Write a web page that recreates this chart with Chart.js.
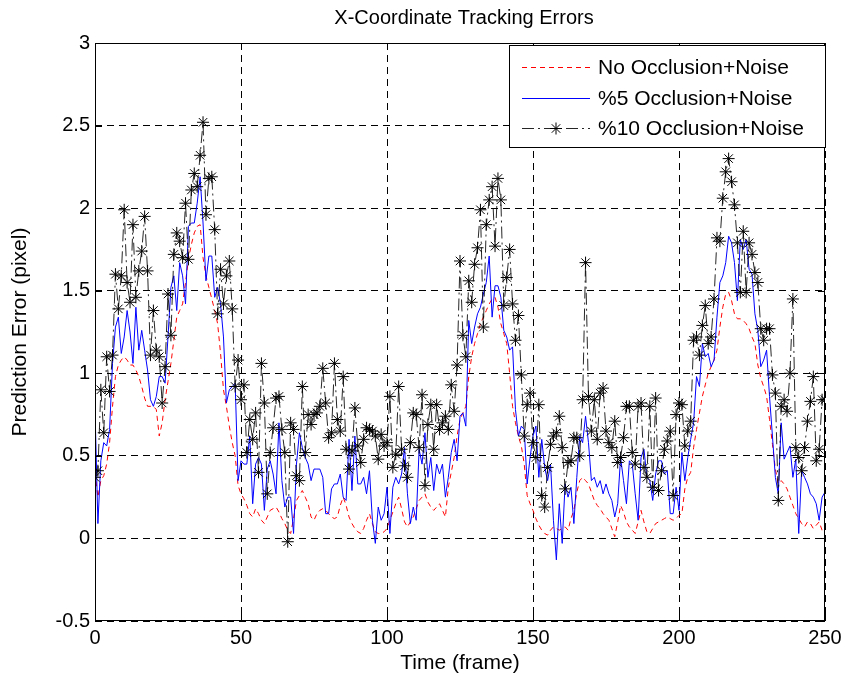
<!DOCTYPE html>
<html>
<head>
<meta charset="utf-8">
<title>X-Coordinate Tracking Errors</title>
<script src="https://cdn.jsdelivr.net/npm/chart.js@4.4.1/dist/chart.umd.min.js"></script>
<style>
  html, body { margin: 0; padding: 0; background: #fff; }
  #wrap { width: 850px; height: 682px; }
</style>
</head>
<body>
<div id="wrap"><canvas id="errChart" width="850" height="682"></canvas></div>
<script>
// frame index 0..250
const frames = Array.from({ length: 251 }, (_, i) => i);

const seriesNames = ['No Occlusion+Noise', '%5 Occlusion+Noise', '%10 Occlusion+Noise'];

const noOcclusion = [
  0.40, 0.25, 0.35, 0.38, 0.45, 0.58, 0.80, 0.98, 1.05, 1.08,
  1.10, 1.08, 1.05, 1.05, 1.02, 0.98, 0.92, 0.85, 0.80, 0.80,
  0.80, 0.78, 0.62, 0.70, 0.84, 0.95, 1.06, 1.20, 1.34, 1.38,
  1.42, 1.55, 1.69, 1.78, 1.85, 1.89, 1.90, 1.70, 1.59, 1.52,
  1.45, 1.38, 1.30, 1.12, 0.90, 0.80, 0.68, 0.58, 0.50, 0.32,
  0.27, 0.24, 0.20, 0.15, 0.13, 0.18, 0.15, 0.11, 0.09, 0.13,
  0.17, 0.18, 0.19, 0.16, 0.12, 0.09, 0.05, 0.03, 0.12, 0.23,
  0.26, 0.29, 0.25, 0.21, 0.13, 0.11, 0.15, 0.17, 0.18, 0.17,
  0.15, 0.13, 0.12, 0.13, 0.20, 0.25, 0.20, 0.13, 0.09, 0.06,
  0.04, 0.03, 0.06, 0.11, 0.15, 0.09, 0.04, 0.03, 0.03, 0.04,
  0.06, 0.11, 0.16, 0.21, 0.25, 0.18, 0.10, 0.07, 0.10, 0.13,
  0.18, 0.23, 0.25, 0.27, 0.22, 0.19, 0.17, 0.19, 0.21, 0.17,
  0.13, 0.31, 0.40, 0.49, 0.62, 0.72, 0.76, 0.80, 0.98, 1.10,
  1.18, 1.24, 1.30, 1.34, 1.38, 1.42, 1.45, 1.46, 1.40, 1.30,
  1.24, 1.18, 1.00, 0.80, 0.70, 0.62, 0.56, 0.45, 0.26, 0.21,
  0.17, 0.12, 0.08, 0.05, 0.03, 0.02, 0.05, 0.07, 0.06, 0.05,
  0.06, 0.07, 0.05, 0.12, 0.17, 0.28, 0.35, 0.37, 0.35, 0.33,
  0.28, 0.23, 0.20, 0.18, 0.15, 0.13, 0.11, 0.06, 0.01, 0.10,
  0.20, 0.16, 0.10, 0.07, 0.05, 0.03, 0.10, 0.17, 0.10, 0.04,
  0.03, 0.06, 0.09, 0.10, 0.11, 0.12, 0.13, 0.12, 0.11, 0.12,
  0.14, 0.15, 0.30, 0.37, 0.40, 0.55, 0.66, 0.76, 0.86, 0.93,
  1.00, 1.04, 1.08, 1.14, 1.28, 1.40, 1.48, 1.49, 1.44, 1.36,
  1.33, 1.33, 1.32, 1.30, 1.27, 1.22, 1.18, 1.05, 0.97, 0.92,
  0.86, 0.72, 0.57, 0.42, 0.33, 0.35, 0.33, 0.30, 0.25, 0.20,
  0.15, 0.12, 0.09, 0.07, 0.10, 0.09, 0.06, 0.08, 0.10, 0.05, 0.07
];

const occlusion5 = [
  0.78, 0.09, 0.47, 0.58, 0.56, 0.66, 1.06, 1.28, 1.34, 1.12,
  1.22, 1.38, 1.25, 1.06, 1.40, 1.14, 1.26, 1.14, 1.02, 0.84,
  0.80, 0.86, 0.98, 0.98, 0.94, 1.22, 1.52, 1.59, 1.38, 1.67,
  1.59, 1.42, 1.89, 1.91, 1.91, 2.03, 2.19, 1.91, 1.56, 1.71,
  1.71, 1.46, 1.52, 1.42, 1.22, 0.82, 0.90, 0.92, 0.94, 0.35,
  0.47, 0.45, 0.45, 0.62, 0.21, 0.45, 0.49, 0.45, 0.17, 0.42,
  0.47, 0.39, 0.27, 0.70, 0.35, 0.19, 0.25, 0.25, 0.03, 0.45,
  0.64, 0.55, 0.49, 0.45, 0.35, 0.42, 0.42, 0.42, 0.37, 0.15,
  0.15, 0.30, 0.33, 0.33, 0.39, 0.25, 0.23, 0.60, 0.29, 0.62,
  0.33, 0.33, 0.37, 0.27, 0.41, 0.11, -0.03, 0.19, 0.11, 0.15,
  0.31, 0.03, 0.31, 0.37, 0.33, 0.39, 0.55, 0.27, 0.09, 0.19,
  0.11, 0.54, 0.45, 0.64, 0.37, 0.49, 0.29, 0.45, 0.39, 0.45,
  0.25, 0.37, 0.52, 0.60, 0.47, 0.74, 0.76, 0.68, 1.32, 1.18,
  1.28, 1.36, 1.40, 1.48, 1.55, 1.71, 1.34, 1.53, 1.53, 1.46,
  1.26, 1.22, 1.14, 1.16, 0.78, 0.62, 0.68, 0.66, 0.33, 0.49,
  0.62, 0.68, 0.37, 0.60, 0.43, 0.35, 0.45, 0.11, -0.13, 0.21,
  -0.03, 0.33, 0.25, 0.31, 0.09, 0.37, 0.62, 0.58, 0.74, 0.58,
  0.35, 0.37, 0.31, 0.35, 0.27, 0.33, 0.27, 0.23, 0.13, 0.21,
  0.49, 0.35, 0.21, 0.47, 0.45, 0.27, 0.11, 0.49, 0.54, 0.37,
  0.35, 0.23, 0.39, 0.47, 0.47, 0.39, 0.41, 0.15, 0.15, 0.31,
  0.17, 0.52, 0.35, 0.49, 0.60, 0.70, 0.98, 0.92, 1.18, 1.10,
  1.12, 1.04, 1.08, 1.34, 1.55, 1.59, 1.67, 1.83, 1.79, 1.67,
  1.44, 1.81, 1.75, 1.81, 1.63, 1.60, 1.36, 1.26, 1.04, 1.08,
  1.14, 0.86, 0.62, 0.37, 0.27, 0.70, 0.48, 0.52, 0.56, 0.37,
  0.48, 0.03, 0.41, 0.37, 0.33, 0.27, 0.25, 0.21, 0.11, 0.25, 0.28
];

const occlusion10 = [
  0.37, 0.41, 0.90, 0.64, 1.10, 0.89, 1.11, 1.60, 1.39, 1.59,
  1.99, 1.55, 1.43, 1.90, 1.46, 1.62, 1.74, 1.95, 1.62, 1.11,
  1.38, 1.14, 1.10, 0.82, 1.04, 1.48, 1.23, 1.72, 1.85, 1.80,
  1.70, 2.03, 1.69, 2.11, 2.21, 2.13, 2.32, 2.52, 1.96, 2.18,
  2.19, 1.87, 1.36, 1.63, 1.42, 1.59, 1.68, 1.39, 0.92, 1.08,
  0.84, 0.93, 0.52, 0.72, 0.60, 0.76, 0.40, 1.06, 0.82, 0.27,
  0.52, 0.67, 0.85, 0.86, 0.66, 0.52, -0.02, 0.70, 0.66, 0.38,
  0.35, 0.92, 0.52, 0.75, 0.69, 0.75, 0.76, 0.80, 1.03, 0.82,
  0.61, 0.64, 1.06, 0.72, 0.65, 0.98, 0.54, 0.42, 0.53, 0.79,
  0.56, 0.46, 0.60, 0.67, 0.66, 0.65, 0.62, 0.48, 0.63, 0.56,
  0.58, 0.86, 0.43, 0.51, 0.92, 0.54, 0.44, 0.37, 0.58, 0.76,
  0.75, 0.55, 0.87, 0.32, 0.69, 0.81, 0.54, 0.81, 0.66, 0.70,
  0.74, 0.66, 0.93, 0.77, 1.05, 1.68, 1.23, 1.10, 1.56, 1.43,
  1.66, 1.76, 1.99, 1.28, 1.90, 2.05, 2.13, 1.77, 2.18, 2.05,
  1.41, 1.58, 1.75, 1.42, 1.20, 1.35, 0.99, 0.62, 0.81, 0.88,
  0.58, 0.49, 0.81, 0.26, 0.19, 0.43, 0.57, 0.62, 0.64, 0.74,
  0.55, 0.30, 0.46, 0.47, 0.61, 0.61, 0.50, 0.84, 1.67, 0.86,
  0.65, 0.84, 0.60, 0.88, 0.91, 0.65, 0.58, 0.55, 0.71, 0.46,
  0.49, 0.61, 0.80, 0.80, 0.52, 0.45, 0.80, 0.82, 0.43, 0.37,
  0.80, 0.31, 0.85, 0.29, 0.41, 0.54, 0.59, 0.65, 0.26, 0.75,
  0.82, 0.81, 0.56, 0.65, 0.71, 1.20, 1.22, 1.11, 1.29, 1.41,
  1.18, 1.22, 1.45, 1.82, 1.80, 2.06, 2.22, 2.30, 2.16, 2.02,
  1.79, 1.49, 1.86, 1.49, 1.79, 1.72, 1.61, 1.55, 1.27, 1.20,
  1.27, 1.27, 0.99, 0.88, 0.23, 0.80, 0.84, 0.77, 1.00, 1.45,
  0.55, 0.49, 0.41, 0.55, 0.71, 0.83, 0.98, 0.47, 0.54, 0.84, 0.84
];

const xTicks = [0, 50, 100, 150, 200, 250];
const yTicks = [-0.5, 0, 0.5, 1, 1.5, 2, 2.5, 3];

const FONT = '"Liberation Sans", Arial, sans-serif';
const RED = '#ff0000';
const BLUE = '#0000ff';
const BLACK_LINE = 'rgba(0,0,0,0.85)';
const RED_DASH = [5, 4];
const BLACK_DASH = [12, 4, 2, 4];

function toPoints(values) {
    return frames.map((f, i) => ({ x: f, y: values[i] }));
}

// MATLAB-like box, inward ticks, title and legend
const matlabFrame = {
    id: 'matlabFrame',
    afterDraw(chart) {
        const { ctx, chartArea: a, scales } = chart;
        ctx.save();
        ctx.setLineDash([]);
        ctx.strokeStyle = '#000';
        ctx.lineWidth = 1;
        ctx.strokeRect(a.left + 0.5, a.top + 0.5, a.right - a.left - 1, a.bottom - a.top - 1);

        const tl = 7;
        ctx.beginPath();
        xTicks.forEach(v => {
            const px = Math.round(scales.x.getPixelForValue(v)) + 0.5;
            ctx.moveTo(px, a.bottom); ctx.lineTo(px, a.bottom - tl);
            ctx.moveTo(px, a.top); ctx.lineTo(px, a.top + tl);
        });
        yTicks.forEach(v => {
            const py = Math.round(scales.y.getPixelForValue(v)) + 0.5;
            ctx.moveTo(a.left, py); ctx.lineTo(a.left + tl, py);
            ctx.moveTo(a.right, py); ctx.lineTo(a.right - tl, py);
        });
        ctx.stroke();

        // title
        ctx.fillStyle = '#000';
        ctx.font = '20px ' + FONT;
        ctx.textAlign = 'center';
        ctx.textBaseline = 'middle';
        ctx.fillText('X-Coordinate Tracking Errors', (a.left + a.right) / 2 + 4, 18);

        // legend
        const bx = 509, by = 45, bw = 316, bh = 102;
        ctx.fillStyle = '#fff';
        ctx.fillRect(bx, by, bw, bh);
        ctx.strokeStyle = '#000';
        ctx.strokeRect(bx + 0.5, by + 0.5, bw, bh);

        const rows = [67, 98, 128];
        const x0 = 522, x1 = 590;
        const styles = [
            { color: RED, dash: RED_DASH, star: false },
            { color: BLUE, dash: [], star: false },
            { color: BLACK_LINE, dash: BLACK_DASH, star: true }
        ];
        styles.forEach((s, i) => {
            const y = rows[i] + 0.5;
            ctx.strokeStyle = s.color;
            ctx.lineWidth = 1;
            ctx.setLineDash(s.dash);
            ctx.beginPath();
            ctx.moveTo(x0, y); ctx.lineTo(x1, y);
            ctx.stroke();
            ctx.setLineDash([]);
            if (s.star) {
                const cx = (x0 + x1) / 2, r = 6;
                ctx.strokeStyle = '#000';
                ctx.beginPath();
                ctx.moveTo(cx - r, y); ctx.lineTo(cx + r, y);
                ctx.moveTo(cx, y - r); ctx.lineTo(cx, y + r);
                const d = r * Math.SQRT1_2;
                ctx.moveTo(cx - d, y - d); ctx.lineTo(cx + d, y + d);
                ctx.moveTo(cx - d, y + d); ctx.lineTo(cx + d, y - d);
                ctx.stroke();
            }
            ctx.fillStyle = '#000';
            ctx.font = '21px ' + FONT;
            ctx.textAlign = 'left';
            ctx.textBaseline = 'middle';
            ctx.fillText(seriesNames[i], 598, rows[i] + 1);
        });
        ctx.restore();
    }
};

Chart.defaults.font.family = FONT;
Chart.defaults.color = '#000';

const ctx = document.getElementById('errChart');
new Chart(ctx, {
    type: 'line',
    data: {
        datasets: [
            {
                label: seriesNames[0],
                data: toPoints(noOcclusion),
                borderColor: RED,
                borderWidth: 1,
                borderDash: RED_DASH,
                pointRadius: 0,
                fill: false,
                tension: 0,
                order: 3
            },
            {
                label: seriesNames[1],
                data: toPoints(occlusion5),
                borderColor: BLUE,
                borderWidth: 1,
                pointRadius: 0,
                fill: false,
                tension: 0,
                order: 2
            },
            {
                label: seriesNames[2],
                data: toPoints(occlusion10),
                borderColor: BLACK_LINE,
                borderWidth: 1,
                borderDash: BLACK_DASH,
                pointStyle: 'star',
                pointRadius: 6,
                pointBorderColor: '#000',
                pointBackgroundColor: '#000',
                pointBorderWidth: 1,
                fill: false,
                tension: 0,
                order: 1
            }
        ]
    },
    options: {
        responsive: false,
        animation: false,
        devicePixelRatio: 1,
        layout: { padding: { top: 43, right: 25, left: 0, bottom: 0 } },
        plugins: {
            legend: { display: false },
            tooltip: { enabled: false },
            title: { display: false }
        },
        scales: {
            x: {
                type: 'linear',
                min: 0,
                max: 250,
                afterFit: s => { s.height = 61; },
                afterBuildTicks: s => { s.ticks = xTicks.map(v => ({ value: v })); },
                ticks: {
                    font: { size: 20 },
                    padding: 5,
                    callback: v => String(v)
                },
                grid: {
                    color: '#000',
                    lineWidth: 1,
                    drawTicks: false,
                    tickLength: 0
                },
                border: { display: false, dash: [7, 5] },
                title: {
                    display: true,
                    text: 'Time (frame)',
                    font: { size: 21 },
                    padding: { top: 0, bottom: 6 }
                }
            },
            y: {
                min: -0.5,
                max: 3,
                afterFit: s => { s.width = 95; },
                afterBuildTicks: s => { s.ticks = yTicks.map(v => ({ value: v })); },
                ticks: {
                    font: { size: 20 },
                    padding: 5,
                    callback: v => String(v)
                },
                grid: {
                    color: '#000',
                    lineWidth: 1,
                    drawTicks: false,
                    tickLength: 0
                },
                border: { display: false, dash: [7, 5] },
                title: {
                    display: true,
                    text: 'Prediction Error (pixel)',
                    font: { size: 21 },
                    padding: { top: 8, bottom: 0 }
                }
            }
        }
    },
    plugins: [matlabFrame]
});
</script>
</body>
</html>
